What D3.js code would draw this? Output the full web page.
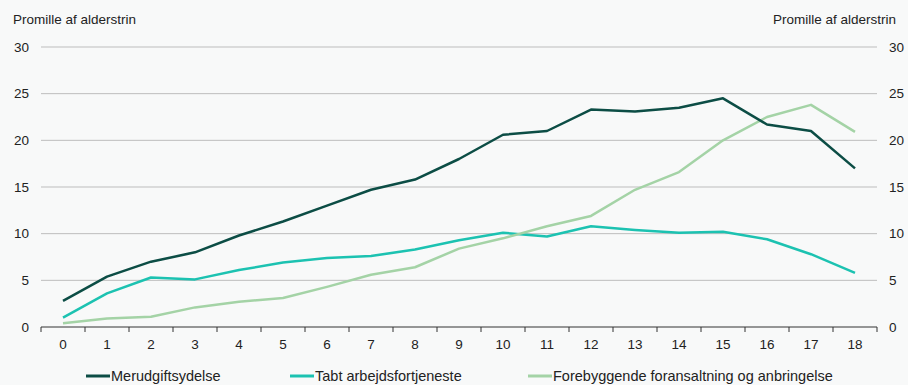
<!DOCTYPE html>
<html>
<head>
<meta charset="utf-8">
<script src="https://cdn.jsdelivr.net/npm/d3@7"></script>
<style>
body { margin: 0; background: #f8f9f9; }
svg { display: block; font-family: "Liberation Sans", Arial, sans-serif; }
</style>
</head>
<body>
<svg id="chart" width="908" height="385"></svg>
<script>
var ages = ["0","1","2","3","4","5","6","7","8","9","10","11","12","13","14","15","16","17","18"];
var merudgift = [2.8, 5.4, 7.0, 8.0, 9.8, 11.3, 13.0, 14.7, 15.8, 18.0, 20.6, 21.0, 23.3, 23.1, 23.5, 24.5, 21.7, 21.0, 17.0];
var tabt = [1.0, 3.6, 5.3, 5.1, 6.1, 6.9, 7.4, 7.6, 8.3, 9.3, 10.1, 9.7, 10.8, 10.4, 10.1, 10.2, 9.4, 7.8, 5.8];
var forebyg = [0.4, 0.9, 1.1, 2.1, 2.7, 3.1, 4.3, 5.6, 6.4, 8.4, 9.5, 10.8, 11.9, 14.7, 16.6, 20.0, 22.5, 23.8, 20.9];
var seriesNames = ["Merudgiftsydelse", "Tabt arbejdsfortjeneste", "Forebyggende foransaltning og anbringelse"];
var colors = ["#0c4d45", "#1cc2b1", "#a4d3a6"];
var yTicks = [0, 5, 10, 15, 20, 25, 30];

var svg = d3.select("#chart");
var mLeft = 41, mRight = 877, mTop = 47, mBottom = 327;

var x = d3.scaleBand().domain(ages).range([mLeft, mRight]);
var y = d3.scaleLinear().domain([0, 30]).range([mBottom, mTop]);

// gridlines
svg.append("g").selectAll("line")
    .data(yTicks.filter(function(d){ return d > 0; }))
    .enter().append("line")
    .attr("x1", mLeft).attr("x2", mRight)
    .attr("y1", function(d){ return y(d); })
    .attr("y2", function(d){ return y(d); })
    .attr("stroke", "#bdbdbd").attr("stroke-width", 1);

// y labels both sides
svg.append("g").selectAll("text")
    .data(yTicks).enter().append("text")
    .attr("x", 29).attr("y", function(d){ return y(d); })
    .attr("dy", "0.35em").attr("text-anchor", "end")
    .attr("font-size", 13.5).attr("fill", "#222")
    .text(function(d){ return d; });
svg.append("g").selectAll("text")
    .data(yTicks).enter().append("text")
    .attr("x", 889).attr("y", function(d){ return y(d); })
    .attr("dy", "0.35em").attr("text-anchor", "start")
    .attr("font-size", 13.5).attr("fill", "#222")
    .text(function(d){ return d; });

svg.append("text").attr("x", 13).attr("y", 24).attr("font-size", 13.5).attr("fill", "#222")
    .text("Promille af alderstrin");
svg.append("text").attr("x", 896).attr("y", 24).attr("font-size", 13.5).attr("fill", "#222")
    .attr("text-anchor", "end").text("Promille af alderstrin");

// x axis
var xAxis = svg.append("g").attr("transform", "translate(0," + mBottom + ")");
xAxis.append("line").attr("x1", mLeft).attr("x2", mRight).attr("stroke", "#333");
xAxis.selectAll(".tk").data(d3.range(ages.length + 1)).enter().append("line")
    .attr("class", "tk")
    .attr("x1", function(i){ return mLeft + i * x.step(); })
    .attr("x2", function(i){ return mLeft + i * x.step(); })
    .attr("y1", 0).attr("y2", 5).attr("stroke", "#333");
xAxis.selectAll("text").data(ages).enter().append("text")
    .attr("x", function(d){ return x(d) + x.bandwidth() / 2; })
    .attr("y", 22).attr("text-anchor", "middle")
    .attr("font-size", 13.5).attr("fill", "#222")
    .text(function(d){ return d; });

// lines
var line = d3.line()
    .x(function(d, i){ return x(ages[i]) + x.bandwidth() / 2; })
    .y(function(d){ return y(d); });

var paths = [merudgift, tabt, forebyg].map(function(s, i) {
    return svg.append("path").datum(s)
        .attr("d", line)
        .attr("fill", "none")
        .attr("stroke", colors[i])
        .attr("stroke-width", 2.5)
        .attr("stroke-linejoin", "round");
});
// dark line drawn above the light green
paths[0].raise();

// legend
var legendX = [86, 290, 528];
var lg = svg.append("g");
seriesNames.forEach(function(n, i) {
    lg.append("line").attr("x1", legendX[i]).attr("x2", legendX[i] + 24)
        .attr("y1", 376).attr("y2", 376)
        .attr("stroke", colors[i]).attr("stroke-width", 3);
    lg.append("text").attr("x", legendX[i] + 25).attr("y", 376)
        .attr("dy", "0.35em").attr("font-size", 14.5).attr("fill", "#222")
        .text(n);
});
</script>
</body>
</html>
